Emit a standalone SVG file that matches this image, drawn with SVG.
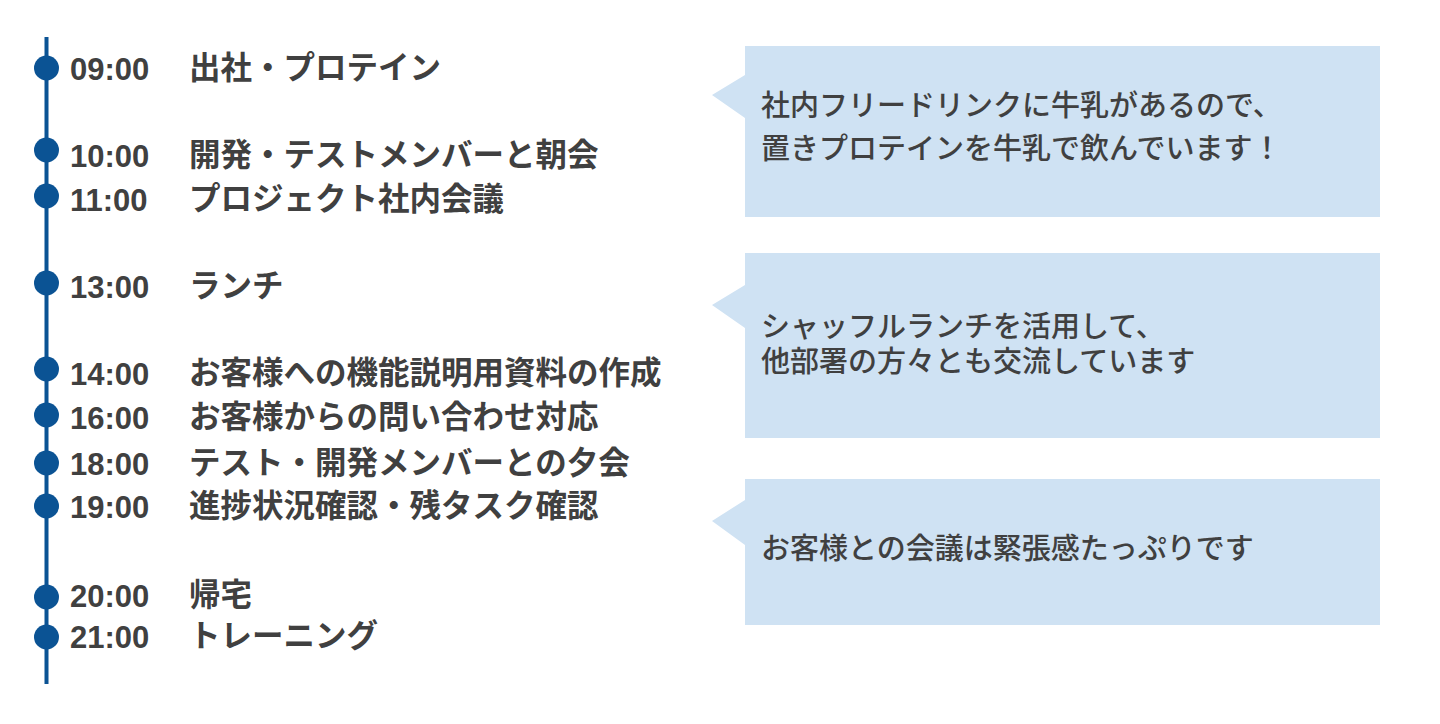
<svg xmlns="http://www.w3.org/2000/svg" width="1440" height="724" viewBox="0 0 1440 724">
<style>
.time{font-family:"Liberation Sans",Arial,sans-serif;font-weight:bold;font-size:31px;fill:#404040}
.lab{font-family:"Noto Sans CJK JP","Noto Sans",sans-serif;font-weight:bold;font-size:31.5px;fill:#404040}
.note{font-family:"Noto Sans CJK JP","Noto Sans",sans-serif;font-weight:500;font-size:29px;fill:#404040}
.dot{fill:#0b5394}
.box{fill:#cfe2f3}
</style>
<rect width="1440" height="724" fill="#ffffff"/>
<g id="connectors">
<line x1="46.5" y1="37" x2="46.5" y2="684" stroke="#0b5394" stroke-width="4"/>
</g>
<g id="n0900"><circle class="dot" cx="46.5" cy="68" r="12.5"/><text class="time" x="70" y="80">09:00</text><text class="lab" x="189" y="79">出社・プロテイン</text></g>
<g id="n1000"><circle class="dot" cx="46.5" cy="150" r="12.5"/><text class="time" x="70" y="167">10:00</text><text class="lab" x="189" y="166">開発・テストメンバーと朝会</text></g>
<g id="n1100"><circle class="dot" cx="46.5" cy="196" r="12.5"/><text class="time" x="70" y="211">11:00</text><text class="lab" x="189" y="210">プロジェクト社内会議</text></g>
<g id="n1300"><circle class="dot" cx="46.5" cy="283" r="12.5"/><text class="time" x="70" y="298">13:00</text><text class="lab" x="189" y="297">ランチ</text></g>
<g id="n1400"><circle class="dot" cx="46.5" cy="369" r="12.5"/><text class="time" x="70" y="385">14:00</text><text class="lab" x="189" y="384">お客様への機能説明用資料の作成</text></g>
<g id="n1600"><circle class="dot" cx="46.5" cy="415" r="12.5"/><text class="time" x="70" y="429">16:00</text><text class="lab" x="189" y="428">お客様からの問い合わせ対応</text></g>
<g id="n1800"><circle class="dot" cx="46.5" cy="463" r="12.5"/><text class="time" x="70" y="475">18:00</text><text class="lab" x="189" y="474">テスト・開発メンバーとの夕会</text></g>
<g id="n1900"><circle class="dot" cx="46.5" cy="506" r="12.5"/><text class="time" x="70" y="518">19:00</text><text class="lab" x="189" y="517">進捗状況確認・残タスク確認</text></g>
<g id="n2000"><circle class="dot" cx="46.5" cy="597" r="12.5"/><text class="time" x="70" y="607">20:00</text><text class="lab" x="189" y="606">帰宅</text></g>
<g id="n2100"><circle class="dot" cx="46.5" cy="637" r="12.5"/><text class="time" x="70" y="648">21:00</text><text class="lab" x="189" y="647">トレーニング</text></g>
<g id="note1"><path class="box" d="M745 46 H1380 V217 H745 V118 L712 95 L745 75 Z"/><text class="note" x="761" y="116">社内フリードリンクに牛乳があるので、</text><text class="note" x="761" y="159">置きプロテインを牛乳で飲んでいます！</text></g>
<g id="note2"><path class="box" d="M745 253 H1380 V438 H745 V328 L712 305 L745 285 Z"/><text class="note" x="761" y="337">シャッフルランチを活用して、</text><text class="note" x="761" y="372">他部署の方々とも交流しています</text></g>
<g id="note3"><path class="box" d="M745 479 H1380 V625 H745 V545 L712 521 L745 500 Z"/><text class="note" x="761" y="559">お客様との会議は緊張感たっぷりです</text></g>
</svg>
